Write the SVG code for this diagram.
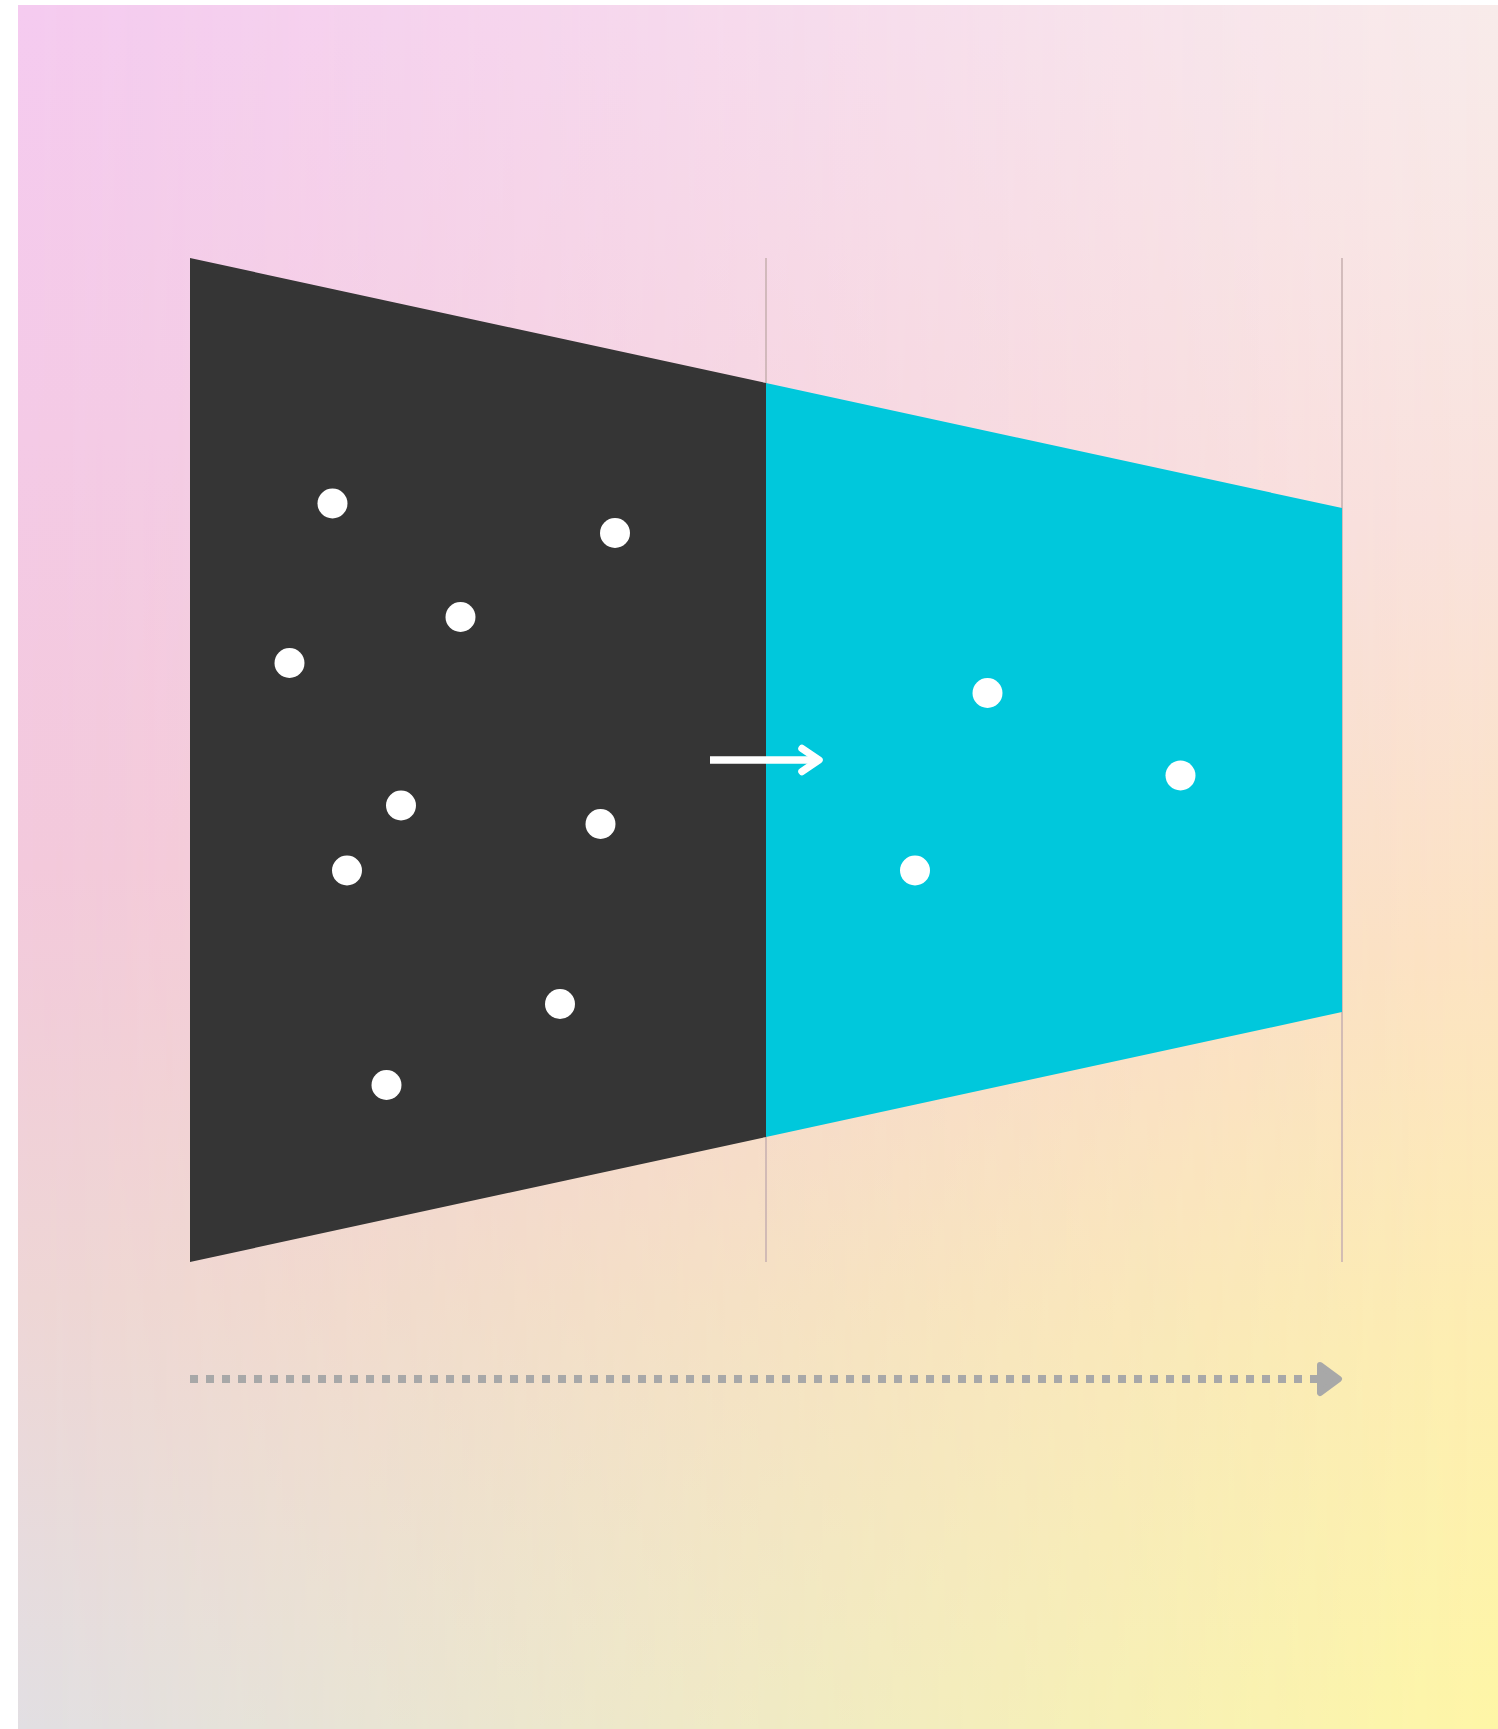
<svg xmlns="http://www.w3.org/2000/svg" width="1498" height="1729" viewBox="0 0 1498 1729">
  <style>
    .dot { fill: #ffffff; }
    .guide { stroke: #c9b2b2; stroke-width: 1.6; fill: none; }
  </style>
  <defs>
    <linearGradient id="leftCol" x1="0" y1="0" x2="0" y2="1">
      <stop offset="0" stop-color="#f5cbf0"/>
      <stop offset="0.5" stop-color="#f3c9dc"/>
      <stop offset="0.75" stop-color="#eed6d6"/>
      <stop offset="1" stop-color="#e2dfe3"/>
    </linearGradient>
    <linearGradient id="rightCol" x1="0" y1="0" x2="0" y2="1">
      <stop offset="0" stop-color="#f8ebea"/>
      <stop offset="0.3" stop-color="#f9e2dc"/>
      <stop offset="0.55" stop-color="#fce3c2"/>
      <stop offset="0.78" stop-color="#fdeeb0"/>
      <stop offset="1" stop-color="#fef6a6"/>
    </linearGradient>
    <linearGradient id="hMask" x1="0" y1="0" x2="1" y2="0">
      <stop offset="0" stop-color="#fff" stop-opacity="0"/>
      <stop offset="1" stop-color="#fff" stop-opacity="1"/>
    </linearGradient>
    <mask id="rightMask" maskUnits="userSpaceOnUse" x="18" y="5" width="1480" height="1724">
      <rect x="18" y="5" width="1480" height="1724" fill="url(#hMask)"/>
    </mask>
  </defs>

  <g id="background">
    <rect x="18" y="5" width="1480" height="1724" fill="url(#leftCol)"/>
    <rect x="18" y="5" width="1480" height="1724" fill="url(#rightCol)" mask="url(#rightMask)"/>
  </g>

  <g id="guides">
    <line class="guide" x1="766" y1="258" x2="766" y2="1262"/>
    <line class="guide" x1="1342" y1="258" x2="1342" y2="1262"/>
  </g>

  <g id="stage-dark">
    <polygon points="190,258 766,383 766,1137 190,1262" fill="#353535"/>
    <circle class="dot" cx="332.5" cy="503.5" r="15"/>
    <circle class="dot" cx="615" cy="533" r="15"/>
    <circle class="dot" cx="460.5" cy="617" r="15"/>
    <circle class="dot" cx="289.5" cy="663" r="15"/>
    <circle class="dot" cx="401" cy="805.5" r="15"/>
    <circle class="dot" cx="600.5" cy="824" r="15"/>
    <circle class="dot" cx="347" cy="870.5" r="15"/>
    <circle class="dot" cx="560" cy="1004" r="15"/>
    <circle class="dot" cx="386.5" cy="1085" r="15"/>
  </g>

  <g id="stage-cyan">
    <polygon points="766,383 1342,508 1342,1012 766,1137" fill="#00c8dc"/>
    <circle class="dot" cx="987.5" cy="693" r="15"/>
    <circle class="dot" cx="1180.5" cy="775.5" r="15"/>
    <circle class="dot" cx="915" cy="870.5" r="15"/>
  </g>

  <g id="connectors">
    <g id="transfer-arrow" stroke="#ffffff" stroke-width="7.5" fill="none">
      <line x1="710" y1="760" x2="818" y2="760"/>
      <polyline points="802,748.5 819,760 802,771.5" stroke-linecap="round" stroke-linejoin="round"/>
    </g>
    <g id="time-axis">
      <line x1="190" y1="1379" x2="1318" y2="1379" stroke="#a8a8a8" stroke-width="8" stroke-dasharray="8 8"/>
      <path d="M1320,1365 L1339,1379 L1320,1393 Z" fill="#a8a8a8" stroke="#a8a8a8" stroke-width="6" stroke-linejoin="round"/>
    </g>
  </g>
</svg>
